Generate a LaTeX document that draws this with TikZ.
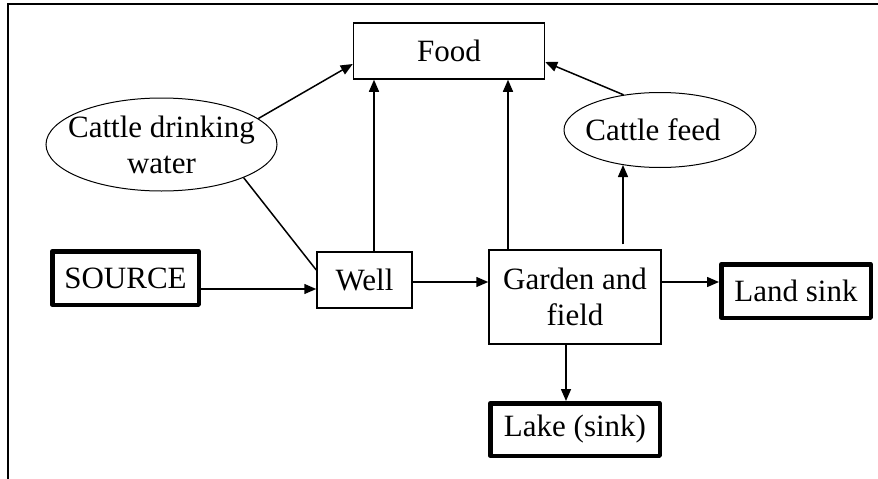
\documentclass[tikz,border=0pt]{standalone}
\usepackage{fontspec}
\setmainfont{Liberation Serif}
\usetikzlibrary{arrows.meta,shapes.geometric,calc}
\begin{document}
\begin{tikzpicture}[x=1pt,y=-1pt,
  font=\fontsize{31}{36}\selectfont,
  box/.style={draw, line width=1.5pt, inner sep=0pt, align=center},
  sinkbox/.style={draw, line width=4.5pt, line join=round, inner sep=0pt, align=center},
  oval/.style={draw, ellipse, line width=1pt, inner sep=0pt},
  lbl/.style={inner sep=0pt, align=center},
  arr/.style={-{Triangle[length=12pt,width=10pt]}, line width=1.5pt},
  ln/.style={line width=1.5pt},
  frame/.style={line width=2pt}]
\useasboundingbox (0,0) rectangle (878,479);
% frame
\draw[frame] (878,4) -- (8,4) -- (8,479);
% nodes
\node[box, minimum width=191pt, minimum height=56pt] (food) at (449,51) {Food};
\node[box, minimum width=95pt, minimum height=56pt] (well) at (364.5,280) {Well};
\node[box, minimum width=172pt, minimum height=94pt] (garden) at (575,297) {Garden and\\field};
\node[sinkbox, minimum width=146.5pt, minimum height=53.5pt] (source) at (125.5,278) {SOURCE};
\node[sinkbox, minimum width=149.5pt, minimum height=53.5pt] (land) at (796,291) {Land sink};
\node[sinkbox, minimum width=169.5pt, minimum height=52.5pt] (lake) at (575,429.5) {Lake (sink)};
\node[oval, minimum width=231pt, minimum height=93pt] (cdw) at (161.5,144.5) {};
\node[lbl] (cdwtext) at (cdw.center) {Cattle drinking\\water};
\node[oval, minimum width=192pt, minimum height=75pt] (cf) at (660,130) {};
\node[lbl] (cftext) at ([xshift=-7pt]cf.center) {Cattle feed};
\coordinate (cfbot) at ([yshift=3pt]cf.south);
\coordinate (gtop) at ([xshift=48pt,yshift=5pt]garden.north);
% connectors
\draw[arr] ([yshift=-11pt]source.east) -- ([yshift=-11pt]source.east -| well.west);
\draw[arr] ([yshift=-2pt]well.east) -- ([yshift=-2pt]well.east -| garden.west);
\draw[arr] ([yshift=15pt]garden.east) -- ([yshift=15pt]garden.east -| land.west);
\draw[arr] ([xshift=-9pt]garden.south) -- ([xshift=-9pt]garden.south |- lake.north);
\draw[arr] ([xshift=9.5pt]well.north) -- ([xshift=9.5pt]well.north |- food.south);
\draw[arr] ([xshift=-67pt]garden.north) -- ([xshift=-67pt]garden.north |- food.south);
\draw[arr] (gtop) -- (gtop |- cfbot);
\draw[arr] (cf.136) -- ([yshift=-11pt]food.east);
\draw[arr] (cdw.15) -- ([yshift=-13pt]food.west);
\draw[ln] (cdw.-22) -- ([yshift=10pt]well.west);
\end{tikzpicture}
\end{document}
